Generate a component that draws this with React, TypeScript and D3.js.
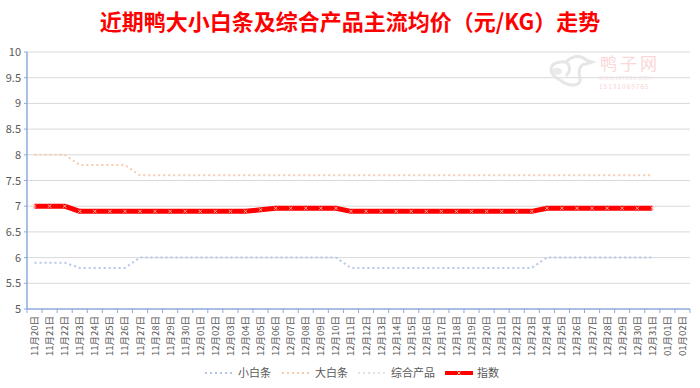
import React from "react";
import * as d3 from "d3";

const TITLE = "近期鸭大小白条及综合产品主流均价（元/KG）走势";

const categories: string[] = [
  "11月20日", "11月21日", "11月22日", "11月23日", "11月24日", "11月25日", "11月26日",
  "11月27日", "11月28日", "11月29日", "11月30日",
  "12月01日", "12月02日", "12月03日", "12月04日", "12月05日", "12月06日", "12月07日",
  "12月08日", "12月09日", "12月10日", "12月11日", "12月12日", "12月13日", "12月14日",
  "12月15日", "12月16日", "12月17日", "12月18日", "12月19日", "12月20日", "12月21日",
  "12月22日", "12月23日", "12月24日", "12月25日", "12月26日", "12月27日", "12月28日",
  "12月29日", "12月30日", "12月31日", "01月01日", "01月02日",
];

const smallStrip: (number | null)[] = [
  5.9, 5.9, 5.9, 5.8, 5.8, 5.8, 5.8,
  6.0, 6.0, 6.0, 6.0,
  6.0, 6.0, 6.0, 6.0, 6.0, 6.0, 6.0, 6.0, 6.0, 6.0,
  5.8, 5.8, 5.8, 5.8, 5.8, 5.8, 5.8, 5.8, 5.8, 5.8, 5.8, 5.8, 5.8,
  6.0, 6.0, 6.0, 6.0, 6.0, 6.0, 6.0, 6.0,
  null, null,
];

const bigStrip: (number | null)[] = [
  8.0, 8.0, 8.0, 7.8, 7.8, 7.8, 7.8,
  7.6, 7.6, 7.6, 7.6,
  7.6, 7.6, 7.6, 7.6, 7.6, 7.6, 7.6, 7.6, 7.6, 7.6,
  7.6, 7.6, 7.6, 7.6, 7.6, 7.6, 7.6, 7.6, 7.6, 7.6, 7.6, 7.6, 7.6,
  7.6, 7.6, 7.6, 7.6, 7.6, 7.6, 7.6, 7.6,
  null, null,
];

const indexSeries: (number | null)[] = [
  7.0, 7.0, 7.0, 6.9, 6.9, 6.9, 6.9,
  6.9, 6.9, 6.9, 6.9,
  6.9, 6.9, 6.9, 6.9, 6.93, 6.96, 6.96, 6.96, 6.96, 6.96,
  6.9, 6.9, 6.9, 6.9, 6.9, 6.9, 6.9, 6.9, 6.9, 6.9, 6.9, 6.9, 6.9,
  6.96, 6.96, 6.96, 6.96, 6.96, 6.96, 6.96, 6.96,
  null, null,
];

// composite series is hidden underneath the index line in the reference
const composite: (number | null)[] = indexSeries.slice();

const yTicks: number[] = [5, 5.5, 6, 6.5, 7, 7.5, 8, 8.5, 9, 9.5, 10];

const FONT = "'Noto Sans CJK SC', 'Noto Sans', sans-serif";

export default function App() {
  const W = 700, H = 388;
  const left = 27, right = 690, top = 52, bottom = 309;

  const x = d3.scaleBand<string>().domain(categories).range([left, right]).padding(0);
  const y = d3.scaleLinear().domain([5, 10]).range([bottom, top]);
  const cx = (i: number) => (x(categories[i]) as number) + x.bandwidth() / 2;

  const line = d3
    .line<number | null>()
    .defined((d) => d != null)
    .x((_, i) => cx(i))
    .y((d) => y(d as number));

  const series = [
    { name: "小白条", data: smallStrip, color: "#b4c7e7", width: 2, dash: "2 3" },
    { name: "大白条", data: bigStrip, color: "#f8cbad", width: 2, dash: "2 3" },
    { name: "综合产品", data: composite, color: "#e2e2e2", width: 1.5, dash: "2 3" },
    { name: "指数", data: indexSeries, color: "#ff0000", width: 5, dash: "" },
  ];

  const legendX = [205, 282, 358, 445];
  const legendY = 373;

  const xMarker = (px: number, py: number, s: number, key: string) => (
    <path
      key={key}
      d={`M${px - s},${py - s}L${px + s},${py + s}M${px - s},${py + s}L${px + s},${py - s}`}
      stroke="#f6b8a6"
      strokeWidth={1}
      fill="none"
    />
  );

  return (
    <svg
      width={W}
      height={H}
      style={{ position: "absolute", left: 0, top: 0, background: "#fff" }}
      fontFamily={FONT}
    >
      <rect x={0} y={0} width={W} height={H} fill="#fff" />

      {/* title */}
      <text
        x={350}
        y={30}
        textAnchor="middle"
        fontSize={22}
        fontWeight="bold"
        fill="#ff0000"
      >
        {TITLE}
      </text>

      {/* gridlines */}
      {yTicks.map((t) =>
        t === 5 ? null : (
          <line key={"g" + t} x1={left} x2={right} y1={y(t)} y2={y(t)} stroke="#d9d9d9" strokeWidth={1} />
        )
      )}

      {/* watermark */}
      <g opacity={0.9}>
        <path d="M560,80 C548,74 548,64 560,62 C570,60 572,70 566,76 M566,62 C574,54 582,56 586,60 L592,62 L586,64 C580,64 578,70 580,78 C582,86 570,88 560,80"
          fill="none" stroke="#e4e4e4" strokeWidth={3} />
        <path d="M552,70 C556,66 562,68 562,72 C560,76 554,76 552,70" fill="#e8e8e8" />
        <text x={600} y={70} fontSize={17} fill="#fbd4d4" letterSpacing={3}>鸭子网</text>
        <text x={599} y={80} fontSize={5} fill="#f6dede" letterSpacing={0.6}>WWW.INTEDC.COM</text>
        <text x={599} y={89} fontSize={6.5} fill="#fbd0d0" letterSpacing={1}>15131069765</text>
      </g>

      {/* y axis */}
      <line x1={left} x2={left} y1={top} y2={bottom} stroke="#8eaadb" strokeWidth={1.5} />
      {yTicks.map((t) => (
        <g key={"yt" + t}>
          <line x1={left - 3} x2={left} y1={y(t)} y2={y(t)} stroke="#8eaadb" strokeWidth={1} />
          <text x={21} y={y(t) + 4} textAnchor="end" fontSize={11} fill="#595959">
            {t}
          </text>
        </g>
      ))}

      {/* x axis */}
      <line x1={left} x2={right} y1={bottom} y2={bottom} stroke="#8eaadb" strokeWidth={1.5} />
      {categories.map((c, i) => {
        const bx = x(c) as number;
        return (
          <line key={"xt" + i} x1={bx} x2={bx} y1={bottom} y2={bottom + 4} stroke="#8eaadb" strokeWidth={1} />
        );
      })}
      <line x1={right} x2={right} y1={bottom} y2={bottom + 4} stroke="#8eaadb" strokeWidth={1} />
      {categories.map((c, i) => (
        <text
          key={"xl" + i}
          transform={`translate(${cx(i) + 3.5},${bottom + 7}) rotate(-90)`}
          textAnchor="end"
          fontSize={9.5}
          fill="#595959"
        >
          {c}
        </text>
      ))}

      {/* series */}
      {series.map((s) => (
        <path
          key={s.name}
          d={line(s.data) || ""}
          fill="none"
          stroke={s.color}
          strokeWidth={s.width}
          strokeDasharray={s.dash || undefined}
          strokeLinejoin="round"
        />
      ))}
      {indexSeries.map((v, i) => (v == null ? null : xMarker(cx(i), y(v), 1.6, "m" + i)))}

      {/* legend */}
      {series.map((s, k) => (
        <g key={"lg" + s.name}>
          <line
            x1={legendX[k]}
            x2={legendX[k] + 28}
            y1={legendY}
            y2={legendY}
            stroke={s.color}
            strokeWidth={s.width === 5 ? 4 : 2}
            strokeDasharray={s.dash || undefined}
          />
          {s.width === 5 ? xMarker(legendX[k] + 14, legendY, 1.6, "lm") : null}
          <text x={legendX[k] + (s.width === 5 ? 32 : 33)} y={legendY + 4} fontSize={11} fill="#595959">
            {s.name}
          </text>
        </g>
      ))}
    </svg>
  );
}
